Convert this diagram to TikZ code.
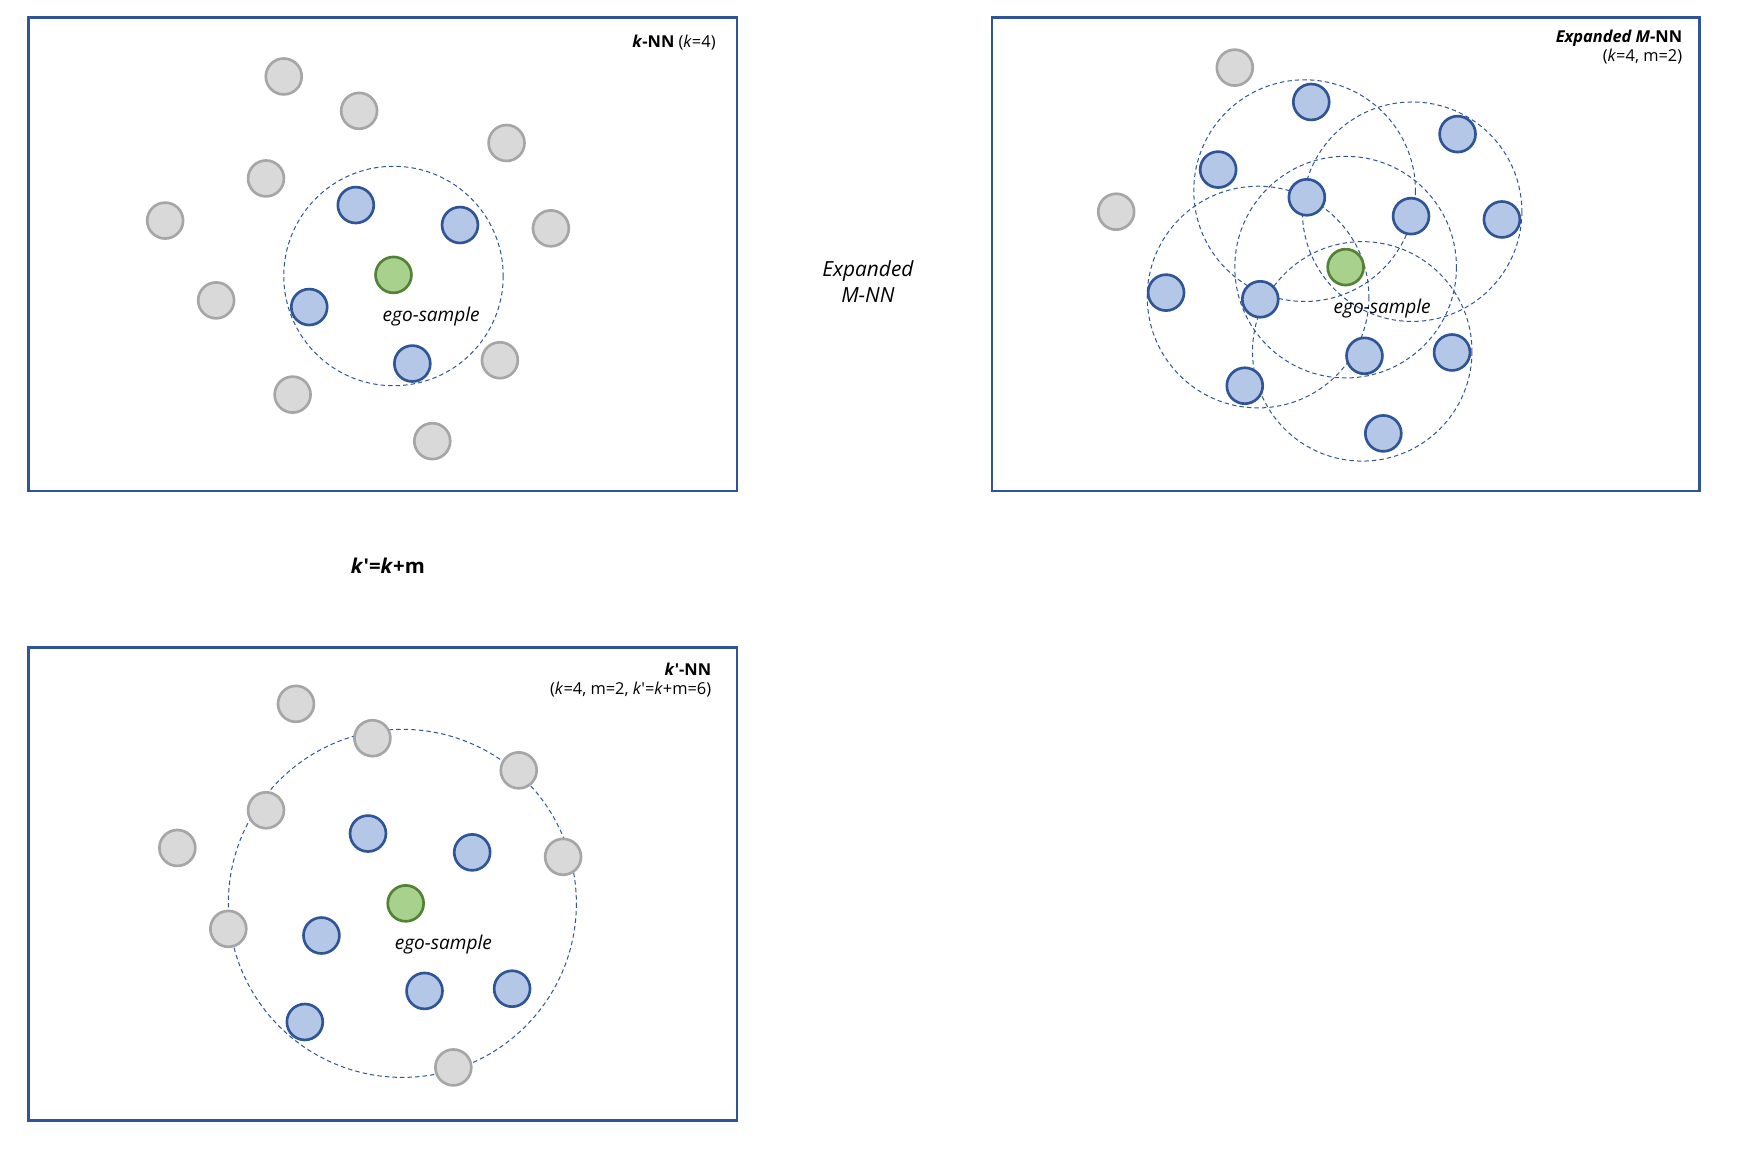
\documentclass[tikz,border=0pt]{standalone}
\usepackage{fontspec}
\setmainfont{Open Sans}
\definecolor{grayfill}{HTML}{D9D9D9}
\definecolor{graydraw}{HTML}{A6A6A6}
\definecolor{bluefill}{HTML}{B4C7E7}
\definecolor{bluedraw}{HTML}{2F5597}
\definecolor{greenfill}{HTML}{A9D18E}
\definecolor{greendraw}{HTML}{548235}
\tikzset{
  pt/.style={circle,minimum size=16.2pt,inner sep=0pt,line width=1.2pt},
  gpt/.style={pt,fill=grayfill,draw=graydraw},
  bpt/.style={pt,fill=bluefill,draw=bluedraw},
  ept/.style={pt,fill=greenfill,draw=greendraw},
  panel/.style={draw=bluedraw,line width=1.2pt},
  region/.style={draw=bluedraw,line width=0.45pt,dash pattern=on 2pt off 1.4pt},
  egolabel/.style={font=\fontsize{8.6}{10}\selectfont\itshape},
  title/.style={font=\fontsize{7.4}{8.6}\selectfont,anchor=north east,align=right,inner sep=0pt},
}
\begin{document}
\begin{tikzpicture}[x=0.5pt,y=-0.5pt]
\useasboundingbox (0,0) rectangle (1568,1038);
% ---------- panel 1: k-NN ----------
\draw[panel] (26,16) rectangle (665,443);
\node[title] (t1) at (646,31) {\textbf{\textit{k}-NN} (\textit{k}=4)};
\draw[region] (355,249) circle[radius=99];
\foreach \n/\x/\y in {a1/256/69,a2/324/100,a3/457/129,a4/240/161,a5/149/199,a6/497/206,a7/195/271,a8/451/325,a9/264/356,a10/390/398}
  \node[gpt] (\n) at (\x,\y) {};
\foreach \n/\x/\y in {ab1/321/185,ab2/415/203,ab3/279/277,ab4/372/328}
  \node[bpt] (\n) at (\x,\y) {};
\node[ept] (ego1) at (355,248) {};
\node[egolabel] (el1) at (389,286) {ego-sample};
% ---------- middle labels ----------
\node[font=\fontsize{9.4}{11.5}\selectfont\itshape,align=center] (mid) at (783,254) {Expanded\\M-NN};
\node[font=\fontsize{9.2}{10}\selectfont\bfseries] (form) at (350,510) {\textit{k}′=\textit{k}+m};
% ---------- panel 2: Expanded M-NN ----------
\draw[panel] (895,16) rectangle (1533,443);
\node[title] (t2) at (1518,27) {\textbf{\textit{Expanded M}-NN}\\(\textit{k}=4, m=2)};
\draw[region] (1177,172) circle[radius=100];
\draw[region] (1274,191) circle[radius=99];
\draw[region] (1214,241) circle[radius=100];
\draw[region] (1135,268) circle[radius=100];
\draw[region] (1229,317) circle[radius=99];
\foreach \n/\x/\y in {b1/1114/61,b2/1007/191}
  \node[gpt] (\n) at (\x,\y) {};
\foreach \n/\x/\y in {bb1/1183/92,bb2/1315/121,bb3/1099/153,bb4/1179/178,bb5/1273/195,bb6/1355/198,bb7/1052/264,bb8/1137/270,bb9/1231/321,bb10/1310/318,bb11/1123/348,bb12/1248/391}
  \node[bpt] (\n) at (\x,\y) {};
\node[ept] (ego2) at (1214,241) {};
\node[egolabel] (el2) at (1247,278) {ego-sample};
% ---------- panel 3: k'-NN ----------
\draw[panel] (26,584) rectangle (665,1011);
\node[title] (t3) at (642,598) {\textbf{\textit{k}′-NN}\\(\textit{k}=4, m=2, \textit{k}′=\textit{k}+m=6)};
\draw[region] (363,815) circle[radius=157];
\foreach \n/\x/\y in {c1/267/635,c2/336/666,c3/468/695,c4/240/731,c5/160/765,c6/508/773,c7/206/838,c8/409/963}
  \node[gpt] (\n) at (\x,\y) {};
\foreach \n/\x/\y in {cb1/332/752,cb2/426/769,cb3/290/844,cb4/383/894,cb5/462/892,cb6/275/922}
  \node[bpt] (\n) at (\x,\y) {};
\node[ept] (ego3) at (366,815) {};
\node[egolabel] (el3) at (400,852) {ego-sample};
\end{tikzpicture}
\end{document}
